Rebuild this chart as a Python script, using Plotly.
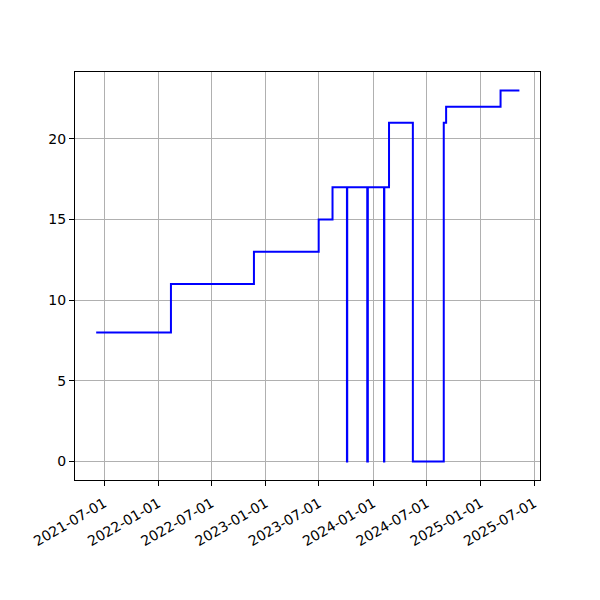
import plotly.graph_objects as go

dates = ["2021-06-04", "2022-02-13", "2022-11-22", "2023-06-30", "2023-08-16",
         "2023-10-04", "2023-10-05", "2023-12-12", "2023-12-14", "2024-02-07",
         "2024-02-08", "2024-02-24", "2024-05-15", "2024-08-28", "2024-09-05",
         "2025-03-09", "2025-05-12"]
values = [8, 11, 13, 15, 17, 0, 17, 0, 17, 0, 17, 21, 0, 21, 22, 23, 23]

x_ticks = ["2021-07-01", "2022-01-01", "2022-07-01", "2023-01-01", "2023-07-01",
           "2024-01-01", "2024-07-01", "2025-01-01", "2025-07-01"]
y_ticks = [0, 5, 10, 15, 20]

fig = go.Figure()
fig.add_trace(go.Scatter(x=dates, y=values, mode="lines",
                         line=dict(color="#0000ff", width=2, shape="hv"),
                         showlegend=False))

axis_common = dict(showline=True, linecolor="black", linewidth=1, mirror=True,
                   showgrid=True, gridcolor="#b0b0b0", gridwidth=1,
                   ticks="outside", ticklen=5, tickcolor="black", zeroline=False,
                   tickfont=dict(family="DejaVu Sans", size=14, color="black"))

fig.update_layout(
    width=600, height=600,
    margin=dict(l=67, r=68, t=64, b=128),
    paper_bgcolor="white", plot_bgcolor="white",
    xaxis=dict(range=["2021-03-24", "2025-07-21"], type="date",
               tickvals=x_ticks, ticktext=x_ticks, tickangle=-30,
               ticklabelstandoff=4, **axis_common),
    yaxis=dict(range=[-1.15, 24.15], tickvals=y_ticks, **axis_common),
)

fig.write_html("out.html")
